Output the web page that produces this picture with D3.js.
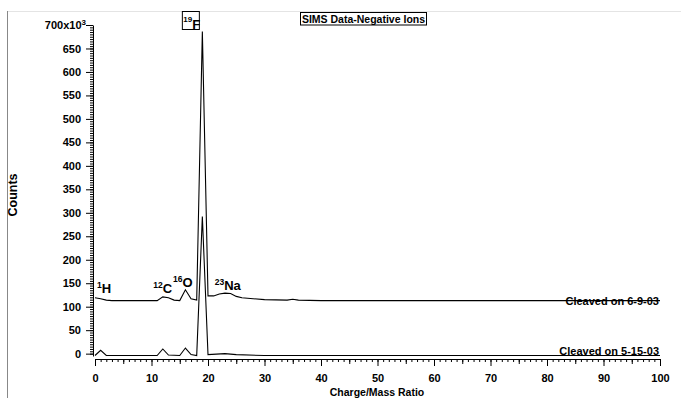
<!DOCTYPE html>
<html>
<head>
<meta charset="utf-8">
<script src="https://cdn.jsdelivr.net/npm/d3@7"></script>
<style>
body{margin:0;background:#fff;}
svg{display:block;font-family:"Liberation Sans",Arial,sans-serif;font-weight:bold;}
</style>
</head>
<body>
<div id="chart"></div>
<script>
// SIMS spectra, counts in thousands, sampled at integer m/z where the trace changes
let cleaved0609=[[0,119],[1,117],[2,114],[3,113],[11,113],[12,121],[13,119],[14,114],[15,113],[16,136],[17,117],[18,114],[19,686],[20,123],[21,123],[22,127],[23,129],[24,128],[25,122],[26,119],[28,117],[30,115],[34,114],[35,116],[36,114],[40,113],[100,113]];
let cleaved0515=[[0,-4],[1,7],[2,-4],[11,-4],[12,10],[13,-3],[15,-4],[16,12],[17,-2],[18,-4],[19,292],[20,-2],[23,0],[25,-2],[30,-4],[100,-4]];
let seriesNames=['Cleaved on 6-9-03','Cleaved on 5-15-03'];
let yTicks=d3.range(0,701,50);
let xTicks=d3.range(0,101,10);
// ion labels: mass number, element, anchor (m/z, counts x10^3)
let ions=[
  {mass:'1',el:'H',mz:0.35,v:131},
  {mass:'12',el:'C',mz:10.3,v:131},
  {mass:'16',el:'O',mz:13.8,v:144},
  {mass:'23',el:'Na',mz:21.2,v:138}
];
let title='SIMS Data-Negative Ions';

let width=681,height=398;
let svg=d3.select('#chart').append('svg').attr('width',width).attr('height',height);

// window frame
svg.append('line').attr('x1',7).attr('x2',width).attr('y1',11.5).attr('y2',11.5).attr('stroke','#e4e4e4');
svg.append('line').attr('x1',7.5).attr('x2',7.5).attr('y1',11).attr('y2',height).attr('stroke','#888');

let x=d3.scaleLinear().domain([0,100]).range([95,660]);
let y=d3.scaleLinear().domain([-5,700]).range([356,25]);

// y axis
let yAxisX=93;
let gy=svg.append('g').attr('transform','translate('+yAxisX+',0)');
gy.call(d3.axisLeft(y).tickValues(d3.range(0,701,5)).tickSize(3).tickSizeOuter(0).tickFormat(''));
let gy2=svg.append('g').attr('transform','translate('+yAxisX+',0)');
gy2.call(d3.axisLeft(y).tickValues(yTicks).tickSize(7).tickSizeOuter(0).tickPadding(5).tickFormat(d3.format('d')));
gy2.select('.domain').remove();
svg.selectAll('.tick text').attr('font-size','11px').attr('font-weight','bold').attr('font-family','"Liberation Sans",Arial,sans-serif');
gy2.selectAll('.tick text').filter(d=>d===700).text(null).attr('x',-7).call(t=>{
  t.append('tspan').text('700x10');
  t.append('tspan').attr('dy','-0.45em').attr('font-size','8px').text('3');
});

// x axis
let xAxisY=359;
let gx=svg.append('g').attr('transform','translate(0,'+xAxisY+')');
gx.call(d3.axisBottom(x).tickValues(d3.range(0,101,1)).tickSize(3).tickSizeOuter(0).tickFormat(''));
let gxm=svg.append('g').attr('transform','translate(0,'+xAxisY+')');
gxm.call(d3.axisBottom(x).tickValues(d3.range(5,100,10)).tickSize(5).tickSizeOuter(0).tickFormat(''));
gxm.select('.domain').remove();
let gx2=svg.append('g').attr('transform','translate(0,'+xAxisY+')');
gx2.call(d3.axisBottom(x).tickValues(xTicks).tickSize(7).tickSizeOuter(0).tickPadding(8));
gx2.select('.domain').remove();
gx2.selectAll('.tick text').attr('font-size','11px').attr('font-weight','bold').attr('font-family','"Liberation Sans",Arial,sans-serif');

svg.selectAll('.domain,.tick line').attr('stroke','#000');

// axis titles
svg.append('text').attr('x',377).attr('y',396).attr('text-anchor','middle').attr('font-size','10.5px').text('Charge/Mass Ratio');
svg.append('text').attr('transform','translate(17,195) rotate(-90)').attr('text-anchor','middle').attr('font-size','12.5px').text('Counts');

// traces
let line=d3.line().x(d=>x(d[0])).y(d=>y(d[1]));
[cleaved0609,cleaved0515].forEach((s,i)=>{
  svg.append('path').datum(s).attr('d',line).attr('fill','none').attr('stroke','#000').attr('stroke-width',1.1);
  let last=s[s.length-1];
  svg.append('text').attr('x',x(last[0])-1).attr('y',y(last[1])+(i===0?4:-0.5)).attr('text-anchor','end').attr('font-size','11px').text(seriesNames[i]);
});

// ion labels
ions.forEach(d=>{
  let t=svg.append('text').attr('x',x(d.mz)).attr('y',y(d.v)).attr('font-size','13px');
  t.append('tspan').attr('font-size','8.5px').attr('dy','-0.5em').text(d.mass);
  t.append('tspan').attr('dy','0.42em').text(d.el);
});

// boxed 19F label above the peak
let fBox=svg.append('g').attr('transform','translate('+(x(19)-20.5)+',11)');
fBox.append('rect').attr('x',0.5).attr('y',0.5).attr('width',17).attr('height',18).attr('fill','#fff').attr('stroke','#000');
let ft=fBox.append('text').attr('x',1.5).attr('y',17).attr('font-size','13px');
ft.append('tspan').attr('font-size','8px').attr('dy','-0.75em').text('19');
ft.append('tspan').attr('dy','0.5em').text('F');

// boxed title
let tg=svg.append('g');
let tt=tg.append('text').attr('x',363.5).attr('y',23).attr('text-anchor','middle').attr('font-size','10.5px').text(title);
let bb=tt.node().getBBox();
tg.insert('rect','text').attr('x',Math.round(bb.x)-1.5).attr('y',12.5).attr('width',Math.round(bb.width)+3).attr('height',12.5).attr('fill','#fff').attr('stroke','#000');
</script>
</body>
</html>
